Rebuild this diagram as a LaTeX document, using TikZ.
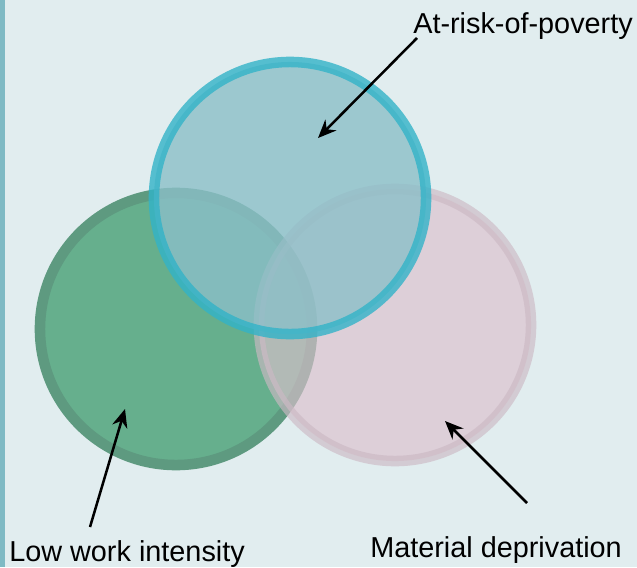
\documentclass[tikz,border=0pt]{standalone}
\usepackage{fontspec}
\setmainfont{Liberation Sans}
\definecolor{bgcol}{HTML}{E1EDEF}
\definecolor{stripcol}{HTML}{7FBAC4}
\definecolor{povfill}{HTML}{8BBFC8}
\definecolor{povring}{HTML}{32B3C8}
\definecolor{lwifill}{HTML}{66AF8D}
\definecolor{lwiring}{HTML}{5E9A80}
\definecolor{depfill}{HTML}{DBC0CC}
\definecolor{depring}{HTML}{CCB9C4}
\tikzset{
  setcircle/.style={circle, inner sep=0pt, minimum size=6.8cm, line width=7.5pt},
  label/.style={font=\fontsize{20.5}{24}\selectfont, inner sep=0pt},
  pointer/.style={line width=1.8pt, -{Stealth[length=13pt,width=11pt]}}
}
\usetikzlibrary{arrows.meta}
\begin{document}
\begin{tikzpicture}[x=0.025cm, y=-0.025cm]
    % background and left strip
    \fill[bgcol] (0,0) rectangle (637,567);
    \fill[stripcol] (0,0) rectangle (5,567);
    \useasboundingbox (0,0) rectangle (637,567);

    \node[setcircle, draw=lwiring, fill=lwifill] (lwi) at (176,329) {};
    \node[setcircle, draw=depring, fill=depfill, opacity=0.65] (dep) at (395,325) {};
    \node[setcircle, draw=povring, fill=povfill, opacity=0.8] (pov) at (290,198) {};

    \node[label, anchor=base west] (povlabel) at (413,33) {At-risk-of-poverty};
    \node[label, anchor=base west] (lwilabel) at (9,561) {Low work intensity};
    \node[label, anchor=base west] (deplabel) at (370,557) {Material deprivation};

    \coordinate (povtail) at (417,38);
    \coordinate (povtip) at (318,138);
    \coordinate (lwitail) at (90,527);
    \coordinate (lwitip) at (125,409);
    \coordinate (deptail) at (527,503);
    \coordinate (deptip) at (445,421);

    \foreach \t/\h in {povtail/povtip, lwitail/lwitip, deptail/deptip}{
      \draw[pointer] (\t) -- (\h);
    }
  \end{tikzpicture}
\end{document}
